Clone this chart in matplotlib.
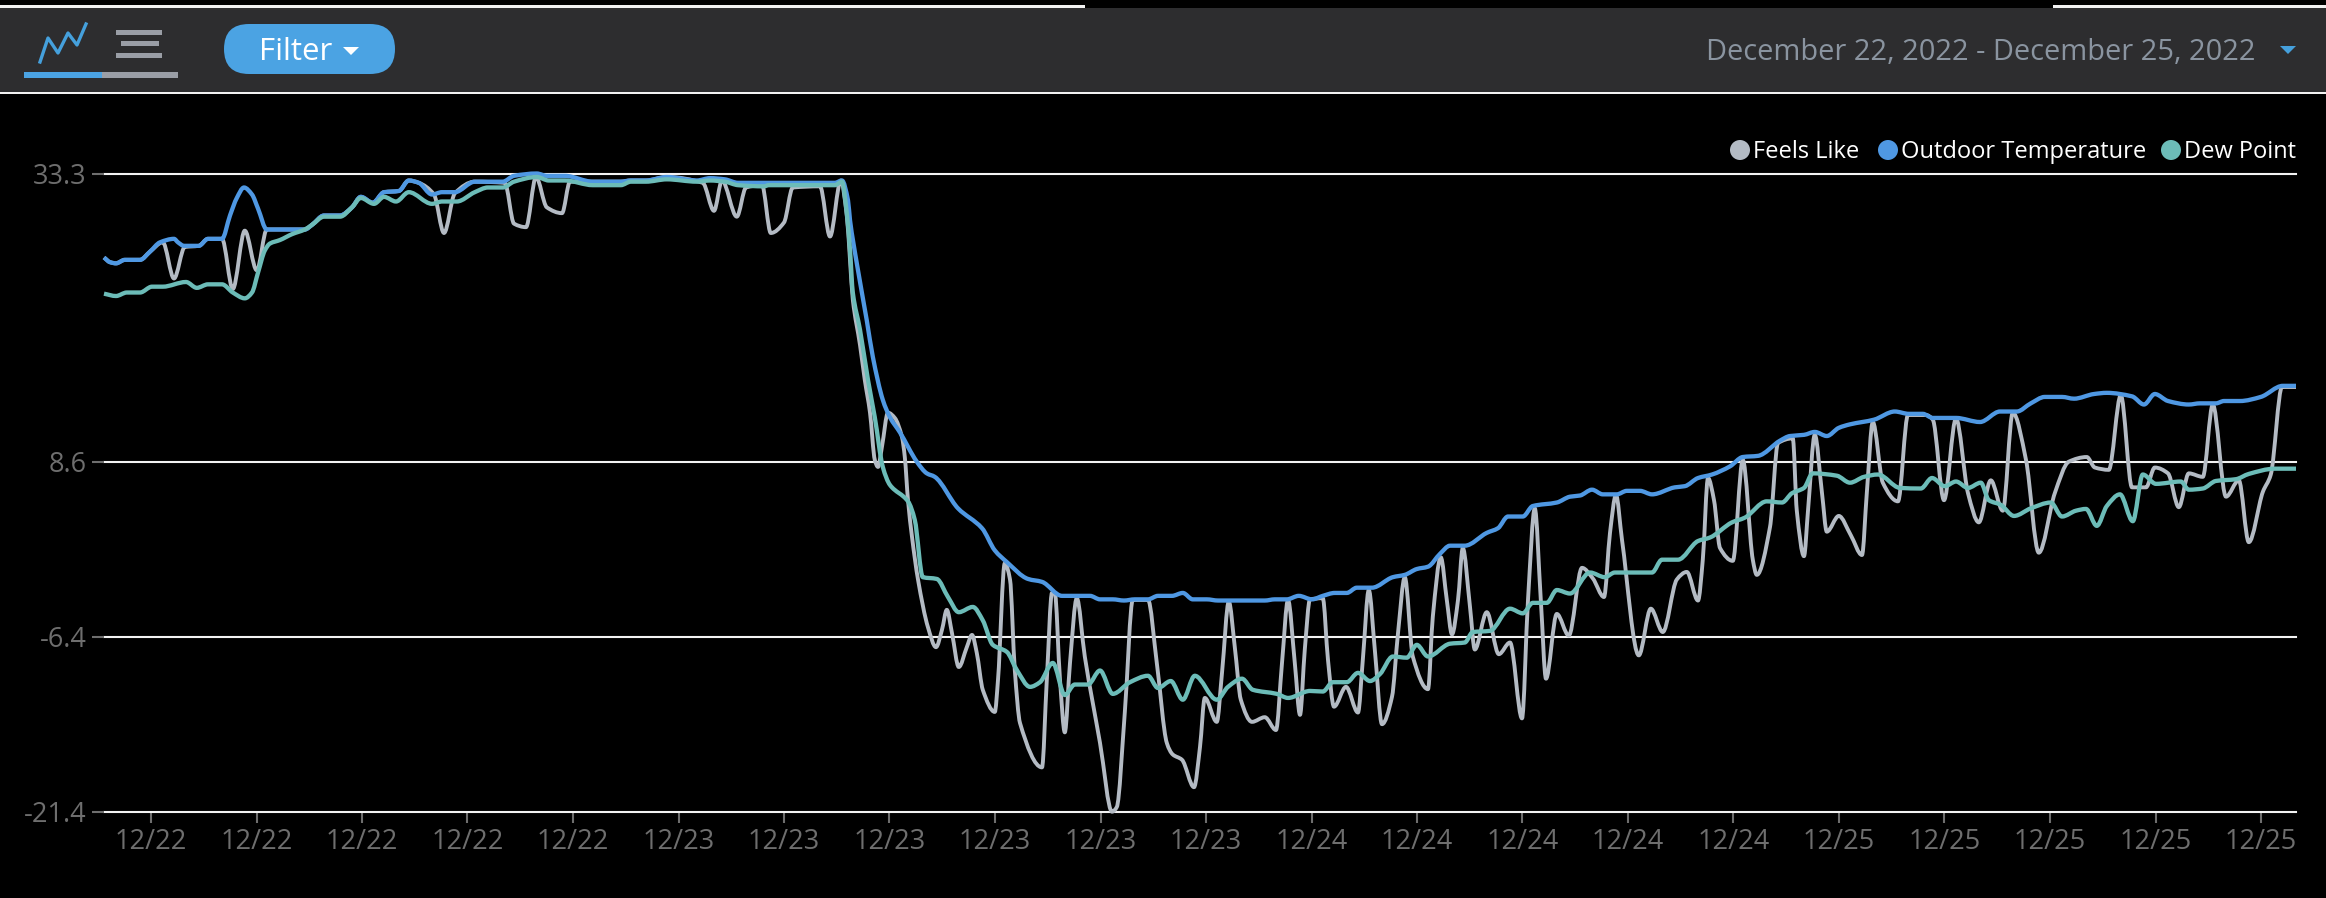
import matplotlib
matplotlib.use("Agg")
import matplotlib.pyplot as plt
from matplotlib.path import Path
from matplotlib.patches import Rectangle, FancyBboxPatch, Ellipse, Polygon, PathPatch

plt.rcParams['font.family'] = ['Open Sans', 'DejaVu Sans']

# time in minutes from the left edge of the chart, values in degrees
outdoor_t = [0, 15, 30, 52, 90, 115, 140, 175, 185, 200, 237, 260, 295, 315, 332, 350, 370, 385, 407, 502,
             520, 550, 590, 620, 642, 672, 700, 737, 762, 787, 820, 845, 877, 927, 997, 1025, 1082, 1107, 1152, 1222,
             1292, 1317, 1355, 1407, 1482, 1515, 1552, 1585, 1650, 1827, 1845, 1860, 1865, 1882, 1907, 1922, 1947, 1965, 1990, 2032,
             2057, 2077, 2135, 2195, 2227, 2257, 2310, 2345, 2395, 2465, 2490, 2522, 2550, 2577, 2610, 2635, 2670, 2697, 2722, 2757,
             2785, 2902, 2927, 2957, 2987, 3020, 3047, 3077, 3107, 3132, 3170, 3222, 3252, 3282, 3310, 3340, 3365, 3402, 3457, 3485,
             3510, 3547, 3572, 3632, 3665, 3690, 3720, 3747, 3782, 3807, 3840, 3870, 3927, 3952, 3985, 4020, 4065, 4097, 4135, 4190,
             4215, 4250, 4277, 4307, 4337, 4365, 4425, 4477, 4512, 4547, 4572, 4630, 4690, 4740, 4782, 4817, 4852, 4895, 4925, 4975,
             5007, 5070, 5100, 5127, 5160, 5212, 5240, 5280, 5300, 5340, 5392, 5447, 5480]
outdoor_v = [26.1, 25.7, 25.6, 25.9, 25.9, 26.6, 27.4, 27.7, 27.4, 27.1, 27.1, 27.7, 27.7, 29.7, 31.2, 32.1, 31.5, 30.3, 28.5, 28.5,
             28.9, 29.7, 29.7, 30.4, 31.3, 30.8, 31.7, 31.8, 32.7, 32.5, 31.5, 31.7, 31.7, 32.6, 32.6, 33.1, 33.3, 33.1, 33.1, 32.6,
             32.6, 32.7, 32.7, 33.0, 32.7, 32.9, 32.8, 32.5, 32.5, 32.5, 32.7, 31.0, 29.3, 25.6, 20.7, 17.6, 13.9, 12.4, 11.1, 8.6,
             7.6, 7.3, 4.6, 2.9, 1.0, 0.0, -1.45, -1.7, -2.9, -2.9, -3.2, -3.2, -3.3, -3.2, -3.2, -2.9, -2.9, -2.65, -3.2, -3.2,
             -3.3, -3.3, -3.2, -3.2, -2.9, -3.2, -2.9, -2.65, -2.65, -2.2, -2.2, -1.3, -1.1, -0.6, -0.4, 0.7, 1.4, 1.4, 2.5, 2.9,
             3.9, 3.9, 4.8, 5.1, 5.6, 5.7, 6.2, 5.8, 5.8, 6.1, 6.1, 5.8, 6.4, 6.5, 7.2, 7.5, 8.2, 9.0, 9.1, 10.4,
             10.8, 10.9, 11.15, 10.8, 11.5, 11.8, 12.2, 12.9, 12.7, 12.7, 12.35, 12.35, 12.0, 12.9, 12.9, 13.6, 14.15, 14.15, 14.0, 14.4,
             14.5, 14.2, 13.5, 14.4, 13.8, 13.5, 13.6, 13.6, 13.8, 13.8, 14.15, 15.1, 15.1]

dew_t = [0, 30, 57, 90, 120, 147, 205, 232, 260, 295, 322, 352, 370, 385, 402, 415, 440, 470, 502, 520,
         550, 590, 620, 642, 675, 700, 730, 762, 820, 845, 882, 927, 960, 997, 1025, 1082, 1112, 1152, 1222, 1292,
         1317, 1355, 1407, 1482, 1515, 1552, 1585, 1650, 1662, 1827, 1845, 1857, 1865, 1872, 1890, 1910, 1927, 1947, 1965, 2010,
         2027, 2047, 2082, 2110, 2137, 2172, 2197, 2222, 2257, 2282, 2315, 2340, 2372, 2402, 2427, 2460, 2490, 2522, 2565, 2610,
         2635, 2667, 2697, 2727, 2782, 2810, 2845, 2872, 2932, 2960, 3015, 3047, 3072, 3107, 3135, 3165, 3190, 3222, 3257, 3282,
         3310, 3365, 3402, 3422, 3465, 3515, 3547, 3572, 3607, 3632, 3665, 3715, 3752, 3777, 3870, 3895, 3935, 3985, 4015, 4070,
         4102, 4157, 4195, 4220, 4250, 4272, 4332, 4365, 4400, 4435, 4490, 4542, 4570, 4602, 4630, 4660, 4692, 4712, 4742, 4775,
         4817, 4867, 4895, 4930, 4955, 4982, 5007, 5040, 5072, 5097, 5130, 5192, 5212, 5247, 5280, 5330, 5362, 5427, 5480]
dew_v = [23.0, 22.8, 23.1, 23.1, 23.6, 23.6, 24.0, 23.5, 23.8, 23.8, 23.1, 22.6, 23.1, 24.8, 26.7, 27.3, 27.6, 28.1, 28.5, 28.9,
         29.6, 29.6, 30.4, 31.2, 30.7, 31.3, 30.9, 31.7, 30.7, 30.9, 30.9, 31.7, 32.1, 32.1, 32.6, 33.0, 32.7, 32.7, 32.3, 32.3,
         32.6, 32.6, 32.8, 32.6, 32.7, 32.6, 32.3, 32.2, 32.3, 32.3, 32.6, 29.9, 26.75, 23.1, 19.9, 15.6, 12.4, 8.15, 6.6, 5.2,
         3.6, -1.3, -1.45, -3.0, -4.3, -3.85, -5.0, -7.1, -7.7, -9.25, -10.7, -10.3, -8.65, -11.4, -10.5, -10.5, -9.3, -11.3, -10.3, -9.75,
         -10.8, -10.2, -11.8, -9.75, -11.8, -10.7, -10.0, -10.95, -11.3, -11.65, -11.05, -11.1, -10.3, -10.3, -9.5, -10.2, -9.6, -8.1, -8.2, -7.1,
         -8.1, -7.0, -6.9, -6.0, -5.9, -4.0, -4.4, -3.5, -3.5, -2.4, -2.7, -0.9, -1.3, -0.9, -0.9, 0.2, 0.2, 1.8, 2.1, 3.4,
         3.8, 5.2, 5.1, 5.9, 6.35, 7.6, 7.4, 6.8, 7.3, 7.5, 6.35, 6.3, 7.2, 6.5, 6.9, 6.35, 6.8, 5.3, 4.9, 3.95,
         4.6, 5.1, 3.9, 4.4, 4.55, 3.1, 4.8, 5.8, 3.5, 7.5, 6.7, 6.9, 6.2, 6.3, 6.95, 7.1, 7.55, 8.0, 8.0]

feels_t = [0, 15, 30, 52, 90, 115, 147, 175, 202, 237, 260, 295, 322, 352, 382, 407, 502, 520, 550, 590,
           620, 642, 672, 700, 737, 762, 787, 825, 850, 877, 927, 1002, 1025, 1055, 1080, 1107, 1145, 1165, 1222, 1292,
           1317, 1355, 1407, 1497, 1525, 1545, 1582, 1605, 1645, 1667, 1700, 1722, 1790, 1815, 1842, 1857, 1865, 1872, 1890, 1902,
           1915, 1927, 1935, 1945, 1960, 1977, 1995, 2002, 2010, 2020, 2035, 2060, 2080, 2095, 2107, 2120, 2137, 2157, 2170, 2182,
           2197, 2227, 2235, 2252, 2265, 2277, 2290, 2345, 2357, 2370, 2377, 2390, 2402, 2415, 2432, 2452, 2490, 2520, 2532, 2552,
           2572, 2610, 2632, 2657, 2672, 2695, 2725, 2740, 2752, 2782, 2795, 2812, 2827, 2842, 2870, 2902, 2930, 2945, 2960, 2977,
           2990, 3002, 3015, 3047, 3060, 3075, 3105, 3135, 3147, 3162, 3177, 3195, 3220, 3235, 3252, 3272, 3310, 3322, 3342, 3357,
           3370, 3385, 3397, 3415, 3427, 3457, 3487, 3515, 3545, 3560, 3577, 3592, 3605, 3632, 3662, 3695, 3722, 3750, 3765, 3780,
           3795, 3837, 3867, 3897, 3932, 3957, 3985, 3997, 4010, 4025, 4040, 4072, 4097, 4122, 4132, 4165, 4185, 4222, 4232, 4250,
           4260, 4277, 4295, 4307, 4337, 4367, 4395, 4407, 4422, 4447, 4485, 4510, 4555, 4572, 4600, 4630, 4660, 4687, 4717, 4747,
           4772, 4805, 4837, 4877, 4912, 4957, 4977, 5012, 5042, 5070, 5105, 5127, 5160, 5187, 5212, 5247, 5272, 5305, 5337, 5362,
           5397, 5417, 5445, 5480]
feels_v = [26.1, 25.7, 25.6, 25.9, 25.9, 26.6, 27.4, 24.3, 27.0, 27.1, 27.7, 27.7, 23.4, 28.4, 25.0, 28.5, 28.5, 28.9, 29.7, 29.7,
           30.4, 31.3, 30.8, 31.7, 31.8, 32.7, 32.5, 31.5, 28.2, 31.6, 32.6, 32.5, 29.0, 28.7, 33.0, 30.4, 29.9, 32.6, 32.6, 32.6,
           32.7, 32.7, 33.0, 32.5, 30.1, 32.7, 29.6, 32.1, 32.3, 28.2, 29.1, 32.1, 32.2, 27.9, 32.7, 29.7, 25.9, 22.5, 18.6, 15.6,
           12.8, 8.75, 8.15, 9.9, 12.8, 12.35, 10.7, 9.0, 5.3, 2.15, -1.5, -5.6, -7.3, -5.8, -4.1, -6.1, -9.0, -7.3, -6.25, -7.8,
           -10.96, -12.85, -10.1, -0.1, -1.5, -9.25, -13.8, -17.6, -10.1, -2.65, -2.65, -10.1, -14.6, -8.65, -3.1, -8.1, -15.5, -21.4, -21.0, -12.9,
           -3.25, -3.25, -8.65, -15.5, -16.5, -16.95, -19.3, -15.85, -11.65, -13.7, -9.5, -3.4, -7.3, -11.8, -13.7, -13.3, -14.4, -8.65, -3.25, -8.65,
           -13.1, -7.5, -3.2, -3.1, -8.4, -12.4, -10.7, -12.9, -8.4, -2.4, -7.5, -13.9, -11.55, -6.1, -1.3, -8.1, -10.9, -4.7, 0.4, -3.25,
           -6.2, -3.25, 1.2, -3.85, -7.5, -4.3, -7.9, -6.9, -13.4, -3.25, 4.6, -3.25, -10.0, -4.45, -6.3, -0.5, -1.4, -3.0, 2.5, 5.75,
           1.9, -8.0, -4.0, -6.0, -1.5, -0.85, -3.3, 0.2, 7.2, 5.3, 1.2, 0.1, 8.75, 0.2, -1.1, 3.0, 10.2, 10.6, 4.4, 0.5,
           4.4, 10.9, 5.9, 2.6, 3.95, 2.3, 0.6, 5.9, 12.0, 6.8, 5.2, 12.6, 12.6, 12.2, 5.3, 12.3, 5.9, 3.4, 7.0, 4.4,
           12.8, 8.75, 0.8, 5.9, 8.6, 9.0, 8.1, 7.9, 14.3, 6.4, 6.4, 8.1, 7.6, 4.7, 7.6, 7.3, 13.5, 5.6, 7.0, 1.7,
           6.0, 7.5, 15.0, 15.0]

y_ticks = [33.3, 8.6, -6.4, -21.4]
x_labels = ["12/22"] * 5 + ["12/23"] * 6 + ["12/24"] * 5 + ["12/25"] * 5
x_ticks = [117.5 + 263.75 * i for i in range(len(x_labels))]

GREY = "#b4bbc4"
BLUE = "#4f98e3"
TEAL = "#6cbcb8"
TICK = "#6e6e6e"
W, H = 2326, 898


def curve(ax, t, v, color, lw):
    # same rounded line the chart uses: a bezier through the read values, flat at each turn
    slopes = [(v[i + 1] - v[i]) / (t[i + 1] - t[i]) for i in range(len(t) - 1)]
    m = [slopes[0]]
    for a, b in zip(slopes[:-1], slopes[1:]):
        m.append(2 * a * b / (a + b) if a * b > 0 else 0)
    m.append(slopes[-1])
    verts = [(t[0], v[0])]
    codes = [Path.MOVETO]
    for i in range(len(t) - 1):
        d = (t[i + 1] - t[i]) / 3
        verts += [(t[i] + d, v[i] + m[i] * d), (t[i + 1] - d, v[i + 1] - m[i + 1] * d), (t[i + 1], v[i + 1])]
        codes += [Path.CURVE4] * 3
    ax.add_patch(PathPatch(Path(verts, codes), fill=False, edgecolor=color, linewidth=lw, clip_on=False,
                           joinstyle="round", capstyle="butt"))


fig = plt.figure(figsize=(W / 100, H / 100), dpi=100, facecolor="black")
ax = fig.add_axes([104 / W, 1 - 811.7 / H, 2192 / W, 638.2 / H], facecolor="black")
ax.set_xlim(0, 5480)
ax.set_ylim(-21.4, 33.3)
for s in ax.spines.values():
    s.set_visible(False)
ax.grid(axis="y", color="#f2f2f2", linewidth=1.5)
ax.set_axisbelow(True)
ax.set_yticks(y_ticks)
ax.set_yticklabels([str(v) for v in y_ticks])
ax.set_xticks(x_ticks)
ax.set_xticklabels(x_labels)
for line in ax.get_ygridlines():
    line.set_clip_on(False)
ax.tick_params(axis="y", length=8.5, width=1.5, color=TICK, labelcolor=TICK, labelsize=19.5, pad=4)
ax.tick_params(axis="x", length=8, width=1.5, color=TICK, labelcolor=TICK, labelsize=19.5, pad=3.5)

curve(ax, feels_t, feels_v, GREY, 2.8)
curve(ax, outdoor_t, outdoor_v, BLUE, 3.1)
curve(ax, dew_t, dew_v, TEAL, 3.1)

# page chrome, drawn in pixel coordinates on a full-figure overlay
top = fig.add_axes([0, 0, 1, 1], facecolor="none")
top.set_xlim(0, W)
top.set_ylim(H, 0)
top.axis("off")
top.add_patch(Rectangle((0, 8), W, 84, color="#2d2d2f", lw=0))
top.add_patch(Rectangle((0, 5), 1085, 2.5, color="#f2f2f2", lw=0))
top.add_patch(Rectangle((2053, 5), W - 2053, 2.5, color="#f2f2f2", lw=0))
top.add_patch(Rectangle((0, 92), W, 2, color="#f2f2f2", lw=0))

top.plot([40, 48, 58, 68, 77, 86], [62, 38, 53, 33, 45, 24], color="#45a0dc", linewidth=2.4)
top.add_patch(Rectangle((24, 72), 78, 6, color="#4ba3e3", lw=0))
top.add_patch(Rectangle((102, 72), 76, 6, color="#9a9ea6", lw=0))
top.add_patch(Rectangle((116, 30), 46, 5, color="#9a9ea6", lw=0))
top.add_patch(Rectangle((121, 41), 38, 5, color="#9a9ea6", lw=0))
top.add_patch(Rectangle((116, 53), 46, 5, color="#9a9ea6", lw=0))

top.add_patch(FancyBboxPatch((224, 24), 171, 50, boxstyle="round,pad=0,rounding_size=25", color="#4ba3e3", lw=0))
top.text(296, 52, "Filter", color="white", fontsize=22.5, ha="center", va="center")
top.add_patch(Polygon([(343, 47), (359, 47), (351, 55)], color="white", lw=0))

top.text(2256, 53, "December 22, 2022 - December 25, 2022", color="#8a94a0", fontsize=20.9, ha="right", va="center")
top.add_patch(Polygon([(2280, 46), (2296, 46), (2288, 54)], color="#45a0dc", lw=0))

for cx, color, label, tx in [(1740, GREY, "Feels Like", 1753), (1888, BLUE, "Outdoor Temperature", 1901),
                             (2171, TEAL, "Dew Point", 2184)]:
    top.add_patch(Ellipse((cx, 150), 20, 20, color=color, lw=0))
    top.text(tx, 151.5, label, color="white", fontsize=17, ha="left", va="center")

fig.savefig("out.png", dpi=100, facecolor="black")
